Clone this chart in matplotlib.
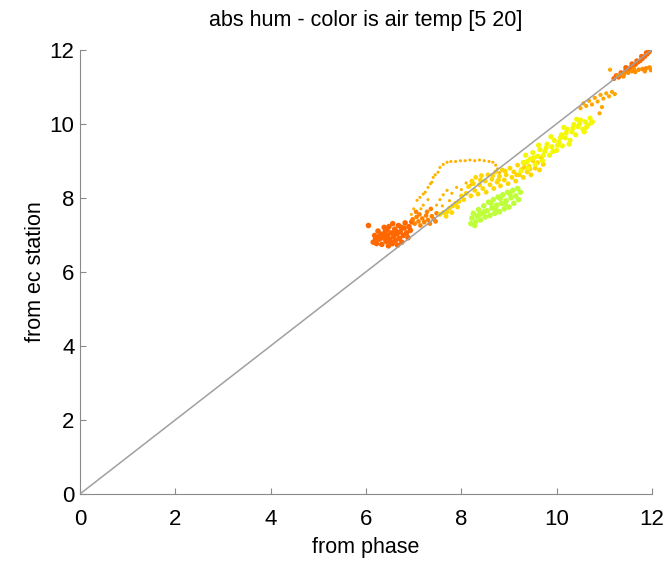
import numpy as np
import matplotlib
matplotlib.use('Agg')
import matplotlib.pyplot as plt

plt.rcParams['font.family'] = ['Liberation Sans', 'DejaVu Sans']

# dark orange blob (low end)
blob_x = [6.15, 6.18, 6.22, 6.25, 6.28, 6.30, 6.33, 6.36, 6.38, 6.40, 6.42, 6.45, 6.47, 6.48, 6.50,
          6.52, 6.55, 6.56, 6.58, 6.60, 6.62, 6.65, 6.66, 6.68, 6.70, 6.72, 6.75, 6.78, 6.80, 6.82,
          6.85, 6.88, 6.90, 6.93, 6.96, 6.05, 6.20, 6.35, 6.44, 6.62, 6.74, 6.52, 6.40, 6.58, 6.28]
blob_y = [6.80, 6.98, 6.76, 7.10, 6.88, 7.02, 6.74, 6.92, 7.20, 7.08, 6.82, 6.98, 6.70, 7.22, 6.88,
          7.05, 6.76, 7.30, 6.95, 7.15, 6.85, 7.02, 6.72, 7.25, 6.90, 7.08, 6.80, 6.98, 7.18, 7.32,
          7.05, 6.92, 7.22, 7.12, 7.35, 7.25, 6.90, 7.00, 7.14, 7.10, 7.20, 6.80, 6.90, 7.05, 6.95]

# orange tongue just above the line
tongue_x = [6.98, 7.02, 7.06, 7.10, 7.14, 7.18, 7.22, 7.26, 7.30, 7.34, 7.38, 7.42, 7.46, 7.12, 7.28,
            7.05, 7.36, 7.48]
tongue_y = [7.42, 7.30, 7.48, 7.36, 7.25, 7.44, 7.34, 7.52, 7.40, 7.30, 7.50, 7.42, 7.36, 7.55, 7.62,
            7.62, 7.70, 7.58]

# sparse loop of points above the line
loop_x = [7.07, 7.13, 7.20, 7.24, 7.30, 7.35, 7.38, 7.41, 7.45, 7.51, 7.55, 7.62,
          7.70, 7.78, 7.88, 7.98, 8.08, 8.18, 8.28, 8.38, 8.48, 8.58, 8.66,
          8.72, 8.76, 8.80,
          7.55, 7.62, 7.70, 7.80, 7.90, 8.00, 7.48, 7.60, 7.75, 8.10, 8.20, 7.00, 6.95, 7.20, 7.30, 7.15]
loop_y = [7.93, 8.01, 8.10, 8.15, 8.28, 8.38, 8.42, 8.55, 8.62, 8.69, 8.82, 8.90,
          8.96, 8.98, 8.98, 9.00, 9.00, 9.02, 9.00, 9.02, 9.00, 8.98, 8.96,
          8.88, 8.78, 8.68,
          7.95, 8.08, 8.20, 8.12, 8.28, 8.22, 7.80, 7.78, 7.92, 8.40, 8.35, 7.70, 7.55, 7.80, 7.95, 7.70]

# yellow-orange band around the line
band_x = [7.55, 7.62, 7.70, 7.75, 7.82, 7.88, 7.95, 8.00, 8.05, 8.10, 7.68, 7.80, 7.92,
          8.15, 8.20, 8.22, 8.28, 8.30, 8.35, 8.38, 8.42, 8.45, 8.50, 8.52, 8.56, 8.60, 8.64,
          8.68, 8.72, 8.75, 8.80, 8.82, 8.86, 8.90, 8.94, 8.98, 9.02, 9.06, 9.10, 9.14, 9.18,
          9.22, 9.26, 9.30, 9.34, 9.38, 9.42, 9.46, 9.50, 9.55, 9.60, 9.64, 9.68, 9.72,
          8.40, 8.66, 8.92, 9.16, 9.44, 8.25, 8.78, 9.32]
band_y = [7.55, 7.60, 7.62, 7.72, 7.78, 7.85, 7.90, 8.05, 7.95, 8.12, 7.50, 7.60, 7.75,
          8.30, 8.05, 8.45, 8.20, 8.55, 8.10, 8.35, 8.60, 8.25, 8.45, 8.15, 8.62, 8.35, 8.50,
          8.25, 8.70, 8.42, 8.58, 8.32, 8.75, 8.48, 8.62, 8.38, 8.80, 8.55, 8.70, 8.45, 8.88,
          8.62, 8.76, 8.55, 8.95, 8.70, 8.85, 8.62, 9.00, 8.80, 8.95, 8.75, 9.08, 8.90,
          8.48, 8.60, 8.72, 8.62, 8.78, 8.38, 8.48, 8.82]

# green cluster below the line
green_x = [8.20, 8.22, 8.25, 8.30, 8.33, 8.36, 8.40, 8.44, 8.47, 8.50, 8.54, 8.57, 8.60, 8.64,
           8.67, 8.70, 8.74, 8.77, 8.80, 8.84, 8.87, 8.90, 8.94, 8.97, 9.00, 9.04, 9.08, 9.10,
           9.14, 9.18, 9.20, 9.24, 8.28, 8.48, 8.62, 8.82, 9.02, 8.38, 8.72, 8.92]
green_y = [7.30, 7.45, 7.58, 7.35, 7.50, 7.68, 7.40, 7.58, 7.78, 7.48, 7.65, 7.88, 7.52, 7.72,
           7.95, 7.58, 7.80, 8.02, 7.62, 7.85, 8.08, 7.70, 7.92, 8.15, 7.75, 8.00, 8.20, 7.85,
           8.05, 8.25, 7.95, 8.15, 7.25, 7.62, 7.85, 7.98, 8.10, 7.55, 7.70, 7.82]

# yellow band
yellow_x = [9.25, 9.30, 9.35, 9.40, 9.45, 9.50, 9.55, 9.60, 9.65, 9.70, 9.75, 9.80, 9.85, 9.90,
            9.95, 10.00, 10.05, 10.10, 10.12, 10.18, 10.22, 10.28, 10.32, 10.36, 10.40, 10.45,
            10.50, 10.55, 10.60, 10.65, 10.70, 10.75, 9.88, 10.15, 10.42, 9.62, 10.26, 10.58,
            9.38, 9.52, 9.72, 9.92, 10.08, 10.20, 10.34, 10.48, 10.62, 10.72, 9.78, 10.02]
yellow_y = [8.72, 8.95, 9.15, 8.80, 9.05, 9.22, 8.90, 9.12, 9.30, 9.00, 9.25, 9.45, 9.15, 9.38,
            9.55, 9.28, 9.50, 9.70, 9.40, 9.62, 9.85, 9.55, 9.78, 9.98, 9.70, 9.92,
            10.10, 9.85, 10.05, 9.95, 10.15, 10.05, 9.65, 9.90, 10.12, 9.42, 9.45, 9.78,
            8.98, 9.08, 9.15, 9.25, 9.62, 9.75, 9.88, 10.00, 9.90, 10.02, 9.35, 9.42]

# orange above the yellow band
upper_x = [10.50, 10.56, 10.62, 10.68, 10.74, 10.80, 10.86, 10.92, 10.98, 11.04, 11.10, 11.16,
           11.22, 10.90, 10.95, 11.12]
upper_y = [10.42, 10.55, 10.48, 10.62, 10.52, 10.70, 10.60, 10.78, 10.68, 10.82, 10.74, 10.86,
           10.80, 10.28, 10.45, 11.46]

# top end, on the line
top_x = [11.20, 11.25, 11.30, 11.35, 11.40, 11.45, 11.50, 11.55, 11.60, 11.65, 11.70, 11.75,
         11.80, 11.85, 11.90, 11.94, 11.98, 11.88, 11.78, 11.68, 11.45, 11.58]
top_y = [11.22, 11.30, 11.26, 11.38, 11.34, 11.45, 11.42, 11.52, 11.55, 11.60, 11.66, 11.70,
         11.76, 11.82, 11.88, 11.94, 12.00, 11.92, 11.82, 11.70, 11.52, 11.62]

# top end, flat branch below the line
branch_x = [11.28, 11.35, 11.42, 11.50, 11.58, 11.65, 11.72, 11.80, 11.88, 11.95, 11.62, 11.85,
            11.98, 11.40]
branch_y = [11.30, 11.32, 11.36, 11.38, 11.42, 11.40, 11.46, 11.48, 11.50, 11.52, 11.48, 11.42,
            11.45, 11.28]

# air temperature of each group, deg C
group_temp = [17.0, 16.6, 15.8, 15.2, 13.7, 14.7, 16.0, 17.0, 16.4]

groups = [(blob_x, blob_y), (tongue_x, tongue_y), (loop_x, loop_y), (band_x, band_y),
          (green_x, green_y), (yellow_x, yellow_y), (upper_x, upper_y), (top_x, top_y),
          (branch_x, branch_y)]
# marker area per group: dense clusters drawn with bigger dots
group_size = [16, 11, 5, 12, 16, 14, 9, 13, 11]

fig = plt.figure(figsize=(6.68, 5.65), dpi=100)
ax = fig.add_axes([0.12, 0.126, 0.856, 0.786])

for (gx, gy), t, sz in zip(groups, group_temp, group_size):
    ax.scatter(gx, gy, c=np.full(len(gx), t), cmap='jet', vmin=5, vmax=20,
               s=sz, linewidths=0, zorder=2)

ax.plot([0, 12], [0, 12], color='#a0a0a0', linewidth=1.1, zorder=3)

ax.set_xlim(0, 12)
ax.set_ylim(0, 12)
ax.set_xticks(range(0, 13, 2))
ax.set_yticks(range(0, 13, 2))
for s in ['top', 'right']:
    ax.spines[s].set_visible(False)
for s in ['left', 'bottom']:
    ax.spines[s].set_color('#8a8a8a')
ax.tick_params(direction='in', length=4, color='#8a8a8a', labelsize=16)
ax.tick_params(axis='x', pad=11)
ax.tick_params(axis='y', pad=4)

ax.set_title('abs hum - color is air temp [5 20]', fontsize=15.5, pad=17)
ax.set_xlabel('from phase', fontsize=15.5, labelpad=5)
ax.set_ylabel('from ec station', fontsize=15.5, labelpad=3)

plt.savefig('out.png', dpi=100)
